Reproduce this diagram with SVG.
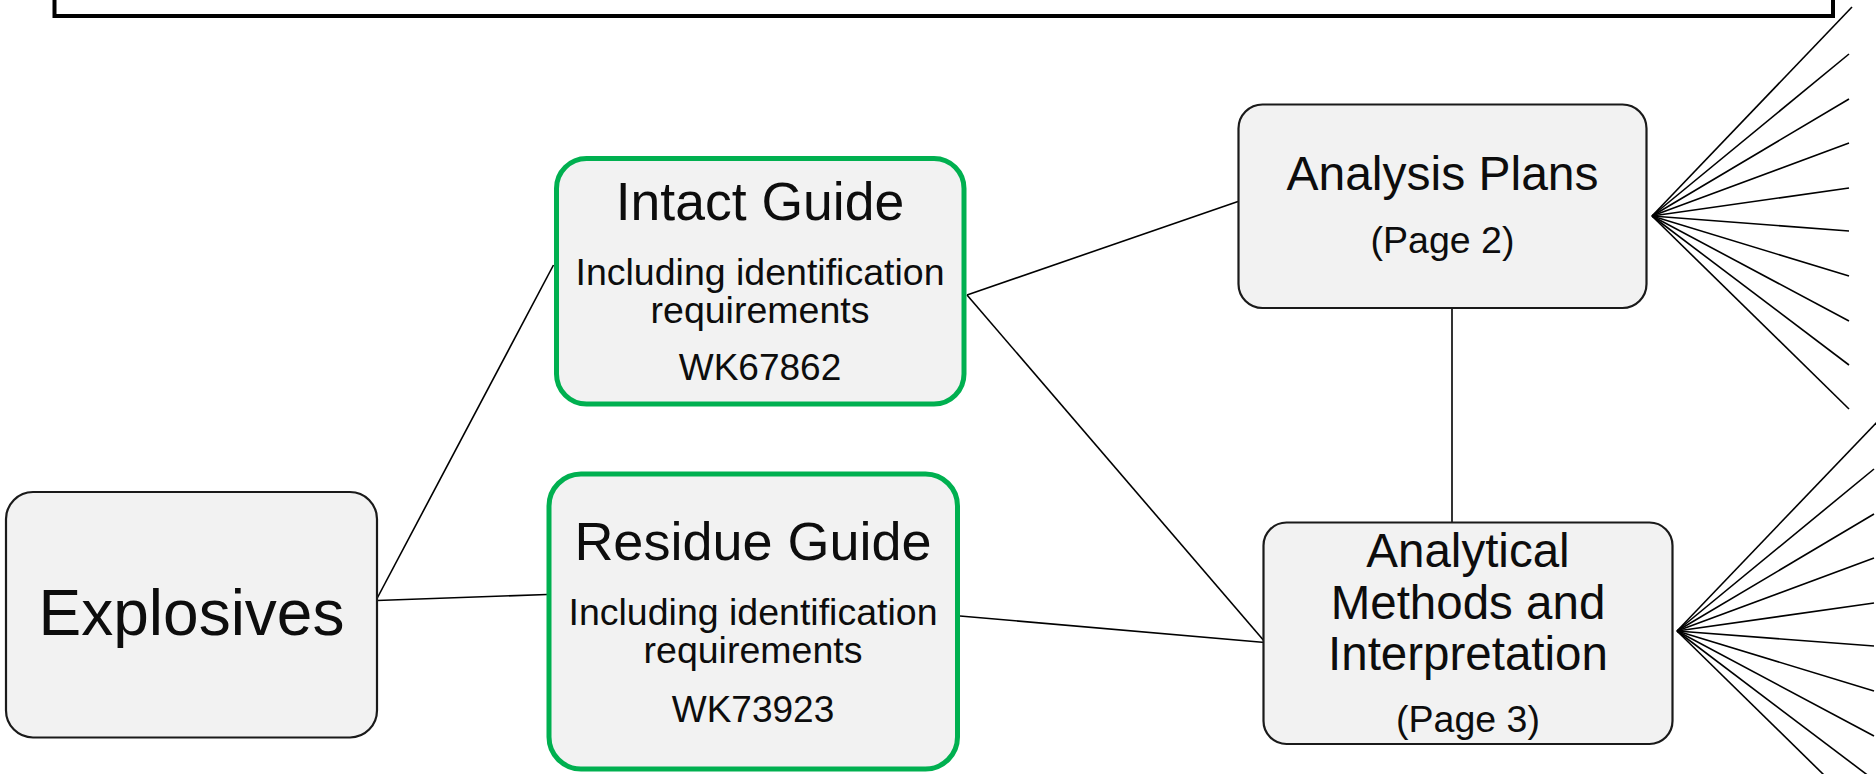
<svg xmlns="http://www.w3.org/2000/svg" width="1876" height="774" viewBox="0 0 1876 774">
<style>
.box{fill:#F2F2F2;stroke:#1A1A1A;stroke-width:2.2}
.gbox{fill:#F2F2F2;stroke:#00B050;stroke-width:5}
.t{font-family:"Liberation Sans",Arial,sans-serif;fill:#0D0D0D;text-anchor:middle}
.conn line{stroke:#000;stroke-width:1.6}
</style>
<rect width="1876" height="774" fill="#FFFFFF"/>
<g id="header">
<rect x="54.5" y="-20" width="1778.5" height="36" fill="#FFFFFF" stroke="#000" stroke-width="4"/>
</g>
<g id="connectors" class="conn">
<line x1="377" y1="598.5" x2="553.5" y2="265"/>
<line x1="377" y1="600.5" x2="547" y2="594.5"/>
<line x1="967" y1="295" x2="1238" y2="201.5"/>
<line x1="967" y1="295" x2="1265" y2="642"/>
<line x1="960" y1="616" x2="1265" y2="642.5"/>
<line x1="1452" y1="309" x2="1452" y2="522"/>
<line x1="1652" y1="216" x2="1852" y2="7"/>
<line x1="1652" y1="216" x2="1849" y2="54"/>
<line x1="1652" y1="216" x2="1849" y2="99"/>
<line x1="1652" y1="216" x2="1849" y2="143"/>
<line x1="1652" y1="216" x2="1849" y2="188"/>
<line x1="1652" y1="216" x2="1849" y2="231"/>
<line x1="1652" y1="216" x2="1849" y2="276"/>
<line x1="1652" y1="216" x2="1849" y2="321"/>
<line x1="1652" y1="216" x2="1849" y2="365"/>
<line x1="1652" y1="216" x2="1849" y2="409"/>
<line x1="1677" y1="631" x2="1877" y2="422"/>
<line x1="1677" y1="631" x2="1874" y2="469"/>
<line x1="1677" y1="631" x2="1874" y2="514"/>
<line x1="1677" y1="631" x2="1874" y2="558"/>
<line x1="1677" y1="631" x2="1874" y2="603"/>
<line x1="1677" y1="631" x2="1874" y2="646"/>
<line x1="1677" y1="631" x2="1874" y2="691"/>
<line x1="1677" y1="631" x2="1874" y2="736"/>
<line x1="1677" y1="631" x2="1874" y2="780"/>
<line x1="1677" y1="631" x2="1874" y2="824"/>
</g>
<g id="explosives">
<rect class="box" x="6" y="492" width="371" height="245.5" rx="27"/>
<text class="t" x="191.5" y="635" font-size="64">Explosives</text>
</g>
<g id="intact-guide">
<rect class="gbox" x="556.5" y="158.5" width="407.5" height="245.5" rx="30"/>
<text class="t" x="760" y="220" font-size="53.5">Intact Guide</text>
<text class="t" x="760" y="285" font-size="37.5">Including identification</text>
<text class="t" x="760" y="323" font-size="37.5">requirements</text>
<text class="t" x="760" y="380" font-size="37">WK67862</text>
</g>
<g id="residue-guide">
<rect class="gbox" x="549" y="474" width="408.5" height="295" rx="32"/>
<text class="t" x="753" y="560" font-size="54">Residue Guide</text>
<text class="t" x="753" y="625" font-size="37.5">Including identification</text>
<text class="t" x="753" y="663" font-size="37.5">requirements</text>
<text class="t" x="753" y="721.5" font-size="37">WK73923</text>
</g>
<g id="analysis-plans">
<rect class="box" x="1238.5" y="104.5" width="408" height="203.5" rx="24"/>
<text class="t" x="1442.5" y="190" font-size="48">Analysis Plans</text>
<text class="t" x="1442.5" y="253" font-size="37.5">(Page 2)</text>
</g>
<g id="analytical-methods">
<rect class="box" x="1263.5" y="522.5" width="409" height="221.5" rx="23"/>
<text class="t" x="1468" y="566.5" font-size="47.5">Analytical</text>
<text class="t" x="1468" y="618.5" font-size="47.5">Methods and</text>
<text class="t" x="1468" y="670" font-size="47.5">Interpretation</text>
<text class="t" x="1468" y="731.5" font-size="37.5">(Page 3)</text>
</g>
</svg>
